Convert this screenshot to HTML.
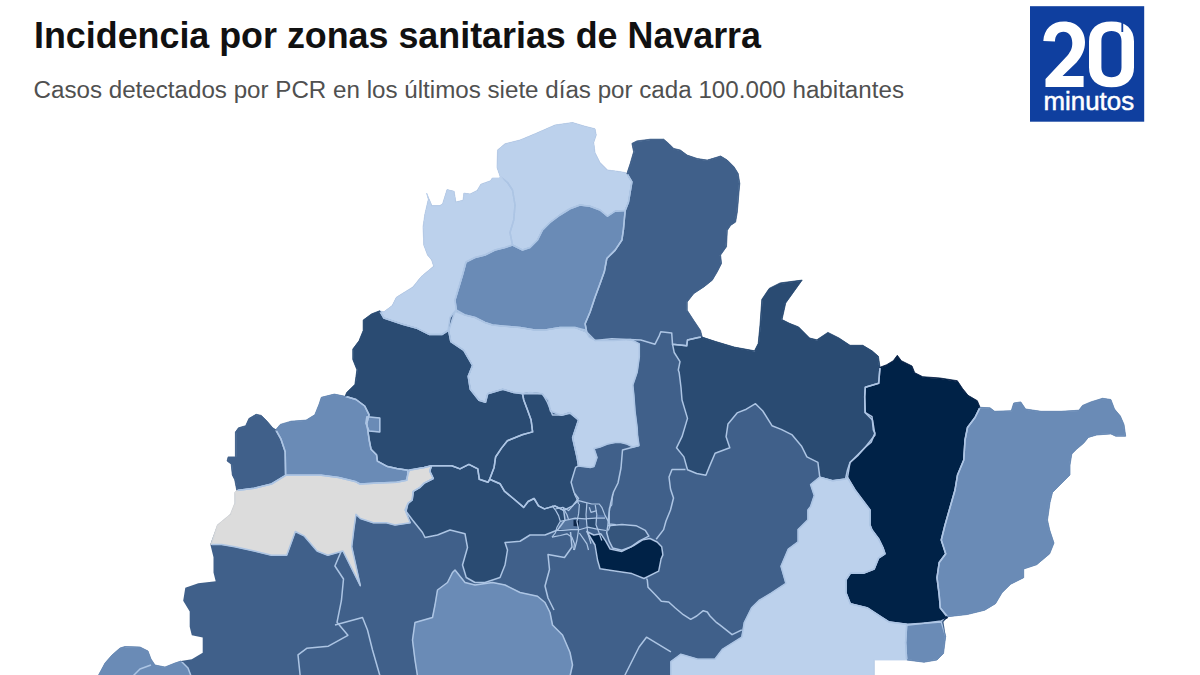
<!DOCTYPE html>
<html><head><meta charset="utf-8">
<style>
html,body{margin:0;padding:0;background:#fff;width:1200px;height:675px;overflow:hidden;}
body{position:relative;font-family:"Liberation Sans",sans-serif;}
.t{position:absolute;left:0;top:0;}
</style></head><body>
<svg class="t" width="1200" height="675" viewBox="0 0 1200 675">
<defs><filter id="er" x="0" y="0" width="1200" height="675" filterUnits="userSpaceOnUse"><feMorphology operator="erode" radius="1.2"/></filter>
<mask id="mk" maskUnits="userSpaceOnUse" x="0" y="0" width="1200" height="675"><g filter="url(#er)"><polygon points="346.6,392.6 354.9,384.4 356.9,369.8 352.8,359.5 352.8,349.1 359,340.8 363.2,330.5 363.2,320.1 371.5,313.9 379.7,310.8 383.9,311.8 392.2,305.6 396.3,297.3 412.9,286.9 421.2,276.6 433.6,266.2 431.6,260 427.5,255 423.75,245 423,226.9 424.8,214.4 428.3,199.3 426.6,193.1 429.2,199.3 431.9,205.6 439.9,205.6 442.6,203.8 447,189.6 454.1,191.3 455.9,202 463,200.2 463.9,193.1 470.1,194 477.2,190.4 480.8,184.2 490.6,180.7 492.3,178 499.4,178 503.9,182.4 500,176.25 497,167.5 497.5,150 505,143.75 520,140 535,133.75 555,125 572.5,122.5 585,126.25 595,128.75 596.25,135 593.75,142.5 595,152.5 600,162.5 607.5,170 617.5,171.25 625,172.5 626.9,173.5 630.2,163.5 633.6,151.8 631.9,143.4 636.9,140.9 650.3,139.2 663.7,139.2 668.7,143.4 673.7,148.4 680.4,150.1 687.1,155.1 697.2,158.5 707.2,160.1 715.6,157.6 720.6,156 727.3,160.1 734,166.8 738.2,173.5 739.8,183.6 739,191.9 738.2,202 737.3,212 735.6,222.1 730.6,225.4 727.3,230.4 726.5,246.7 720.6,255.1 721.5,263.5 717.3,271.8 712.3,280.2 703.9,286.9 693.8,293.6 687.2,302 687.2,310.3 693.8,320.4 700.5,330.4 702.2,337.1 715.9,341.6 734.3,347.1 754.5,350.8 758.2,343.5 760,325.1 761.8,299.4 769.2,288.4 780.2,282.9 802.2,280.1 794.9,290.2 785.7,303.1 782,319.6 789.4,323.3 798.6,326.9 809.6,338 816.9,339.8 827.9,332.4 839,338 850,345.3 862.8,345.3 872,350.8 878.4,356.3 880,367.3 886.7,364.7 893.3,360.7 897.3,355.3 901.3,360.7 912,366 914.7,372.7 922.7,376.7 940,378 957.3,380.7 962.7,388.7 968,395.3 977.3,400.7 980,407.3 990,407.8 994.7,411.3 1011.3,410.7 1013.7,403 1020.8,401.9 1025.6,409 1041,411.3 1061.1,411.3 1078.9,410.2 1082.5,405.4 1090.8,401.9 1102.6,398.3 1110.9,399.5 1114.5,409 1120.4,416.1 1124,424.4 1125.7,436.2 1115.7,436.2 1110.9,433.9 1096.7,435 1088.4,437.4 1083.6,443.3 1076.5,449.3 1071.8,454 1070,465 1070,475 1060,485 1052.5,492.5 1050,502.5 1047.5,520 1049.7,530 1054,543 1049.7,553.8 1036.7,564.7 1023.7,569 1023.7,577.7 1010.7,584.2 1002,592.8 995.5,603.7 984.7,610.2 967.3,614.5 947.8,616.7 943.5,622.1 945.7,636.2 943.5,653.5 937,660 924,662.2 906.7,660 902.3,660 874.2,660 874.2,676 98,676 105,663 112,655 120,648 125,646.5 140,647 148,651 151,659 155,665 165,667 175,663 181,661 191.8,659.2 202.7,652.7 202.7,637.5 191.8,635.3 189.7,626.7 189.7,611.5 183.2,600.7 185.3,587.7 198.3,583.3 215.7,581.2 213.5,572.5 213.5,557.3 210.3,544.3 217.3,525 230.3,514.2 234.7,503.3 234.7,492.5 236.8,490.5 234.7,479.7 232.3,475 231.2,464.1 227.1,461 228.1,456.9 235.4,456.9 235.4,432 238.5,427.8 245.7,425.7 248.9,418.5 256.1,414.3 261.3,415.4 266.5,420.6 272.7,427.8 275.8,429.8 280.2,424.4 291,421.2 306.2,420.1 314.8,414.7 319.2,403.8 321.3,397.3 334.3,394.1 345.2,396.3" fill="#fff"/></g></mask></defs>
<filter id="bl" x="0" y="0" width="1200" height="675" filterUnits="userSpaceOnUse"><feGaussianBlur stdDeviation="0.6"/></filter>
<g filter="url(#bl)"><g stroke="none"><polygon points="346.6,392.6 354.9,384.4 356.9,369.8 352.8,359.5 352.8,349.1 359,340.8 363.2,330.5 363.2,320.1 371.5,313.9 379.7,310.8 383.9,311.8 392.2,305.6 396.3,297.3 412.9,286.9 421.2,276.6 433.6,266.2 431.6,260 427.5,255 423.75,245 423,226.9 424.8,214.4 428.3,199.3 426.6,193.1 429.2,199.3 431.9,205.6 439.9,205.6 442.6,203.8 447,189.6 454.1,191.3 455.9,202 463,200.2 463.9,193.1 470.1,194 477.2,190.4 480.8,184.2 490.6,180.7 492.3,178 499.4,178 503.9,182.4 500,176.25 497,167.5 497.5,150 505,143.75 520,140 535,133.75 555,125 572.5,122.5 585,126.25 595,128.75 596.25,135 593.75,142.5 595,152.5 600,162.5 607.5,170 617.5,171.25 625,172.5 626.9,173.5 630.2,163.5 633.6,151.8 631.9,143.4 636.9,140.9 650.3,139.2 663.7,139.2 668.7,143.4 673.7,148.4 680.4,150.1 687.1,155.1 697.2,158.5 707.2,160.1 715.6,157.6 720.6,156 727.3,160.1 734,166.8 738.2,173.5 739.8,183.6 739,191.9 738.2,202 737.3,212 735.6,222.1 730.6,225.4 727.3,230.4 726.5,246.7 720.6,255.1 721.5,263.5 717.3,271.8 712.3,280.2 703.9,286.9 693.8,293.6 687.2,302 687.2,310.3 693.8,320.4 700.5,330.4 702.2,337.1 715.9,341.6 734.3,347.1 754.5,350.8 758.2,343.5 760,325.1 761.8,299.4 769.2,288.4 780.2,282.9 802.2,280.1 794.9,290.2 785.7,303.1 782,319.6 789.4,323.3 798.6,326.9 809.6,338 816.9,339.8 827.9,332.4 839,338 850,345.3 862.8,345.3 872,350.8 878.4,356.3 880,367.3 886.7,364.7 893.3,360.7 897.3,355.3 901.3,360.7 912,366 914.7,372.7 922.7,376.7 940,378 957.3,380.7 962.7,388.7 968,395.3 977.3,400.7 980,407.3 990,407.8 994.7,411.3 1011.3,410.7 1013.7,403 1020.8,401.9 1025.6,409 1041,411.3 1061.1,411.3 1078.9,410.2 1082.5,405.4 1090.8,401.9 1102.6,398.3 1110.9,399.5 1114.5,409 1120.4,416.1 1124,424.4 1125.7,436.2 1115.7,436.2 1110.9,433.9 1096.7,435 1088.4,437.4 1083.6,443.3 1076.5,449.3 1071.8,454 1070,465 1070,475 1060,485 1052.5,492.5 1050,502.5 1047.5,520 1049.7,530 1054,543 1049.7,553.8 1036.7,564.7 1023.7,569 1023.7,577.7 1010.7,584.2 1002,592.8 995.5,603.7 984.7,610.2 967.3,614.5 947.8,616.7 943.5,622.1 945.7,636.2 943.5,653.5 937,660 924,662.2 906.7,660 902.3,660 874.2,660 874.2,676 98,676 105,663 112,655 120,648 125,646.5 140,647 148,651 151,659 155,665 165,667 175,663 181,661 191.8,659.2 202.7,652.7 202.7,637.5 191.8,635.3 189.7,626.7 189.7,611.5 183.2,600.7 185.3,587.7 198.3,583.3 215.7,581.2 213.5,572.5 213.5,557.3 210.3,544.3 217.3,525 230.3,514.2 234.7,503.3 234.7,492.5 236.8,490.5 234.7,479.7 232.3,475 231.2,464.1 227.1,461 228.1,456.9 235.4,456.9 235.4,432 238.5,427.8 245.7,425.7 248.9,418.5 256.1,414.3 261.3,415.4 266.5,420.6 272.7,427.8 275.8,429.8 280.2,424.4 291,421.2 306.2,420.1 314.8,414.7 319.2,403.8 321.3,397.3 334.3,394.1 345.2,396.3" fill="#41618a"/><polygon points="455,311.25 465,315 475,317.5 485,322.5 492.5,325 505,326.25 520,327.5 535,330 545,330 560,327.5 575,327.5 585,330 589.5,337.3 596,340.6 613.3,340.6 630.7,339.5 639.3,343.8 639.3,356.8 637.2,372 632.8,385 633.9,395.8 635,411 637.2,428.3 637.5,435 639,445.5 633,447 627,444 621,442.5 615,442.5 607.5,444 600,447 594,448.5 597,457.5 594,466.5 590.4,467.4 578.5,465.9 577,457 572.6,437.8 578.5,420 570,413.2 561.3,415.3 550.5,411 548.3,400.2 541.8,393.7 524.5,393.7 513.7,392.6 502.8,389.3 487.7,393.7 485.5,402.3 479,400.2 470.3,389.3 468.2,376.3 472.5,365.5 463.8,350.3 450.8,341.7 448.7,330.8" fill="#bcd1ec" stroke="#bcd1ec" stroke-width="0.8"/><polygon points="497.5,150 505,143.75 520,140 535,133.75 555,125 572.5,122.5 585,126.25 595,128.75 596.25,135 593.75,142.5 595,152.5 600,162.5 607.5,170 617.5,171.25 625,172.5 626.9,173.5 631.9,181.9 630.2,191.9 628.5,202 625.2,210.4 615,211.25 607.5,216.25 600,210 590,206.25 580,205 570,208.75 560,215 550,222.5 542.5,230 537.5,240 530,247.5 522.5,250 512.5,245 510,232.5 513.75,220 515,205 512.5,190 507.5,182.5 500,176.25 497,167.5" fill="#bcd1ec" stroke="#bcd1ec" stroke-width="0.8"/><polygon points="615,211.25 607.5,216.25 600,210 590,206.25 580,205 570,208.75 560,215 550,222.5 542.5,230 537.5,240 530,247.5 522.5,250 512.5,245 505,247.5 495,250 485,255 475,257.5 466,262 462.5,275 458.75,287.5 455,300 456.25,310 465,315 475,317.5 485,322.5 492.5,325 505,326.25 520,327.5 535,330 545,330 560,327.5 575,327.5 586.7,332.1 585.1,323.7 590.1,312 595.1,296.9 600.1,283.6 604.3,271.8 606.8,258.5 615.2,250.1 621.9,240 623.5,228.8 624.4,218.7 625.2,210.4" fill="#6a8bb6" stroke="#6a8bb6" stroke-width="0.8"/><polygon points="499.4,178 492.3,178 490.6,180.7 480.8,184.2 477.2,190.4 470.1,194 463.9,193.1 463,200.2 455.9,202 454.1,191.3 447,189.6 442.6,203.8 439.9,205.6 431.9,205.6 429.2,199.3 426.6,193.1 428.3,199.3 424.8,214.4 423,226.9 423.75,245 427.5,255 431.6,260 433.6,266.2 421.2,276.6 412.9,286.9 396.3,297.3 392.2,305.6 383.9,311.8 379.7,310.8 383.9,318 402.5,324.2 417,328.4 429.5,334.6 441.9,334.6 448.1,330.5 450,317.5 455,311.25 456.25,310 455,300 458.75,287.5 462.5,275 466,262 475,257.5 485,255 495,250 505,247.5 512.5,245 510,232.5 513.75,220 515,205 512.5,190 507.5,182.5 500,176.25" fill="#bcd1ec" stroke="#bcd1ec" stroke-width="0.8"/><polygon points="631.9,143.4 636.9,140.9 650.3,139.2 663.7,139.2 668.7,143.4 673.7,148.4 680.4,150.1 687.1,155.1 697.2,158.5 707.2,160.1 715.6,157.6 720.6,156 727.3,160.1 734,166.8 738.2,173.5 739.8,183.6 739,191.9 738.2,202 737.3,212 735.6,222.1 730.6,225.4 727.3,230.4 726.5,246.7 720.6,255.1 721.5,263.5 717.3,271.8 712.3,280.2 703.9,286.9 693.8,293.6 687.2,302 687.2,310.3 693.8,320.4 700.5,330.4 702.2,337.1 698.3,337.5 687.5,340 686.7,345.8 672.5,344.2 671.7,332.9 660.8,331.7 659.2,335.8 655,344.2 640.8,340 628.6,339.6 611.8,338.8 595.1,340.5 586.7,332.1 585.1,323.7 590.1,312 595.1,296.9 600.1,283.6 604.3,271.8 606.8,258.5 615.2,250.1 621.9,240 623.5,228.8 624.4,218.7 625.2,210.4 628.5,202 630.2,191.9 631.9,181.9 626.9,173.5 630.2,163.5 633.6,151.8" fill="#41618a" stroke="#41618a" stroke-width="0.8"/><polygon points="379.7,310.8 383.9,318 402.5,324.2 417,328.4 429.5,334.6 441.9,334.6 448.1,330.5 448.7,330.8 450.8,341.7 463.8,350.3 472.5,365.5 468.2,376.3 470.3,389.3 479,400.2 485.5,402.3 487.7,393.7 502.8,389.3 513.7,392.6 522.5,393.75 523.75,400 527.5,410 531.1,420 532.6,431.9 522.2,434.8 507.4,440.7 501.5,448.1 495.6,457 494.1,467.4 489.6,479.3 488.1,482.2 479.3,479.3 477.8,468.9 468.9,464.4 460,468.9 451.7,465.7 431.5,465.7 424.2,467.5 407.7,470.2 396.7,468.4 387.5,466.6 377.4,461.1 376.5,454.7 371,449.2 369.2,440 366.8,423.3 369,414.7 364.7,406 356,399.5 345.2,396.3 346.6,392.6 354.9,384.4 356.9,369.8 352.8,359.5 352.8,349.1 359,340.8 363.2,330.5 363.2,320.1 371.5,313.9" fill="#2a4b72" stroke="#2a4b72" stroke-width="0.8"/><polygon points="522.5,393.75 530,392.5 542.5,393.75 547.5,402.5 552.5,415 562.5,415 570,412.5 578.5,420 572.6,437.8 577,457 578.5,465.9 575.6,467.4 571.1,482.2 574.1,492.6 578.5,498.5 572.6,505.9 563.7,510.4 554.8,505.9 544.4,508.9 538.5,505.9 534.1,498.5 528.1,501.5 523.7,507.4 513.3,498.5 504.4,491.1 500,483.7 489.6,479.3 494.1,467.4 495.6,457 501.5,448.1 507.4,440.7 522.2,434.8 532.6,431.9 531.1,420 527.5,410 523.75,400" fill="#2a4b72" stroke="#2a4b72" stroke-width="0.8"/><polygon points="431.5,465.7 451.7,465.7 460,468.9 468.9,464.4 477.8,468.9 479.3,479.3 488.1,482.2 489.6,479.3 500,483.7 504.4,491.1 513.3,498.5 523.7,507.4 528.1,501.5 534.1,498.5 538.5,505.9 544.4,508.9 554.8,505.9 563.7,510.4 565,520 557.5,530 545,535 530,535 520,541.25 505,542.5 507.5,550 505,565 500,577.5 485,582.5 475,582.5 466.25,577.5 462.5,565 467.5,547.5 465,533.75 450,530 437.5,535 425,537.5 422.5,532.5 412.5,520 405,510 408,503.3 412.2,500 413.2,491.3 419.6,487.7 424.2,483.1 433.3,478.5 429.7,471.2" fill="#2a4b72" stroke="#2a4b72" stroke-width="0.8"/><polygon points="702.2,337.1 715.9,341.6 734.3,347.1 754.5,350.8 758.2,343.5 760,325.1 761.8,299.4 769.2,288.4 780.2,282.9 802.2,280.1 794.9,290.2 785.7,303.1 782,319.6 789.4,323.3 798.6,326.9 809.6,338 816.9,339.8 827.9,332.4 839,338 850,345.3 862.8,345.3 872,350.8 878.4,356.3 880,367.3 878.7,383.3 865.3,387.3 864.7,396.7 865.3,412.7 872,416.7 873.3,430 874.9,433.1 871.2,442.2 865,447.5 858.3,455.1 850,462.5 847.5,470 845.5,479 832.6,480.8 819.8,477.1 817.9,462.4 806.9,456.9 801.4,445.9 792.2,434.9 781.2,429.4 772,425.7 762.8,411 755.5,403.7 746.3,409.2 737.1,412.9 728,423.9 726.1,436.7 729.8,447.8 715.1,453.3 709.6,466.1 705.9,475.3 696.7,473.5 687.5,469.8 683.9,456.9 676.5,447.8 682,436.7 687.5,418.4 682,400 681,387.5 679.2,372.8 678.3,370 680,361.7 674.2,352.5 672.5,344.2 686.7,345.8 687.5,340 698.3,337.5" fill="#2a4b72" stroke="#2a4b72" stroke-width="0.8"/><polygon points="880,367.3 886.7,364.7 893.3,360.7 897.3,355.3 901.3,360.7 912,366 914.7,372.7 922.7,376.7 940,378 957.3,380.7 962.7,388.7 968,395.3 977.3,400.7 980,407.3 975,417.5 967.5,427.5 965,440 963.75,460 957.5,475 955,490 950,507.5 945,525 941.25,540 945.7,553.8 939.2,562.5 937,577.7 939.2,595 940.3,608 947.8,617.8 941.3,621 924,623.2 906.7,624.3 889.3,622.1 880.7,616.7 867.7,608 850.3,603.7 846,592.8 846,579.8 850.3,573.3 863.3,573.3 874.2,569 878.5,558.2 885,553.8 882.8,547.3 878.5,538.7 872,530 870,525 870,510 862.5,500 855,490 847.5,477.5 850,462.5 865,447.5 875,435 872.5,420 865,412.5 864.7,396.7 865.3,387.3 878.7,383.3" fill="#062246" stroke="#062246" stroke-width="0.8"/><polygon points="980,407.3 990,407.8 994.7,411.3 1011.3,410.7 1013.7,403 1020.8,401.9 1025.6,409 1041,411.3 1061.1,411.3 1078.9,410.2 1082.5,405.4 1090.8,401.9 1102.6,398.3 1110.9,399.5 1114.5,409 1120.4,416.1 1124,424.4 1125.7,436.2 1115.7,436.2 1110.9,433.9 1096.7,435 1088.4,437.4 1083.6,443.3 1076.5,449.3 1071.8,454 1070,465 1070,475 1060,485 1052.5,492.5 1050,502.5 1047.5,520 1049.7,530 1054,543 1049.7,553.8 1036.7,564.7 1023.7,569 1023.7,577.7 1010.7,584.2 1002,592.8 995.5,603.7 984.7,610.2 967.3,614.5 947.8,616.7 940.3,608 939.2,595 937,577.7 939.2,562.5 945.7,553.8 941.25,540 945,525 950,507.5 955,490 957.5,475 963.75,460 965,440 967.5,427.5 975,417.5" fill="#6a8bb6" stroke="#6a8bb6" stroke-width="0.8"/><polygon points="906.7,625.3 924,623.2 941.3,622.1 945.7,636.2 943.5,653.5 937,660 924,662.2 906.7,660 905.6,642.7" fill="#6a8bb6" stroke="#6a8bb6" stroke-width="0.8"/><polygon points="819.8,477.1 832.6,480.8 845.5,479 847.5,477.5 855,490 862.5,500 870,510 870,525 872,530 878.5,538.7 882.8,547.3 885,553.8 878.5,558.2 874.2,569 863.3,573.3 850.3,573.3 846,579.8 846,592.8 850.3,603.7 867.7,608 880.7,616.7 889.3,622.1 906.7,624.3 905.6,642.7 906.7,660 874.2,660 874.2,676 670.9,676 670.9,661.6 680.7,654.3 697.8,659.2 714.9,659.2 722.3,649.4 741.8,637.2 744.3,622.5 751.6,607.8 759,600.5 771.2,593.2 785.9,583.4 781,566.2 788.3,549.1 798.1,541.8 798.1,529.6 807.9,519.8 807.9,510 810.6,506.5 814.3,495.5 810.6,484.5" fill="#bcd1ec" stroke="#bcd1ec" stroke-width="0.8"/><polygon points="321.3,397.3 334.3,394.1 345.2,396.3 356,399.5 364.7,406 369,414.7 366.8,423.3 369.2,440 371,449.2 376.5,454.7 377.4,461.1 387.5,466.6 396.7,468.4 407.7,470.2 407.7,474.8 406.7,480.3 396.7,482.2 378.3,483.1 360,484 356,481.8 338.7,477.5 321.3,475.3 301.8,475.3 285.6,475.3 285.2,451.7 281,439.2 275.8,429.8 280.2,424.4 291,421.2 306.2,420.1 314.8,414.7 319.2,403.8" fill="#6a8bb6" stroke="#6a8bb6" stroke-width="0.8"/><polygon points="366.8,416.8 379.8,417.9 379.8,432 369,430.9 365.8,423.3" fill="#6a8bb6" stroke="#6a8bb6" stroke-width="0.8"/><polygon points="256.1,414.3 261.3,415.4 266.5,420.6 272.7,427.8 275.8,429.8 281,439.2 285.2,451.7 285.6,475.3 271.5,484 254.2,488.3 236.8,490.5 234.7,479.7 232.3,475 231.2,464.1 227.1,461 228.1,456.9 235.4,456.9 235.4,432 238.5,427.8 245.7,425.7 248.9,418.5" fill="#41618a" stroke="#41618a" stroke-width="0.8"/><polygon points="234.7,492.5 236.8,490.5 254.2,488.3 271.5,484 285.6,475.3 301.8,475.3 321.3,475.3 338.7,477.5 356,481.8 360,484 378.3,483.1 396.7,482.2 406.7,480.3 407.7,474.8 409.5,470.2 424.2,467.5 431.5,465.7 429.7,471.2 433.3,478.5 424.2,483.1 419.6,487.7 413.2,491.3 412.2,500 408,503.3 405.9,512 410.2,522.8 395,525 386.3,522.8 373.3,522.8 360.3,518.5 356,514.2 353.8,529.3 351.7,546.7 360.3,585.7 351.7,568.3 343,551 327.8,555.3 317,551 304,535.8 295.3,531.5 286.7,555.3 271.5,555.3 254.2,551 234.7,546.7 221.7,544.5 210.8,544.5 217.3,525 230.3,514.2 234.7,503.3" fill="#dcdcdc" stroke="#dcdcdc" stroke-width="0.8"/><polygon points="98,676 105,663 112,655 120,648 125,646.5 140,647 148,651 151,659 155,665 165,667 175,663 181,661 188,668 191,676" fill="#6a8bb6" stroke="#6a8bb6" stroke-width="0.8"/><polygon points="452.5,572.5 455,570 465,582.5 475,585 492.5,582.5 505,585 520,592.5 537.5,596.25 545,602.5 550,612.5 552.5,625 562.5,635 570,652.5 572.5,665 570,676 417.5,676 415,660 412.5,640 415,622.5 432.5,617.5 435,605 437.5,590 447.5,582.5" fill="#6a8bb6" stroke="#6a8bb6" stroke-width="0.8"/><polygon points="607.9,525.7 622,524.5 636,525.7 645.3,530.3 648.9,536.2 639.5,540.9 631.3,546.7 621.9,550.2 612.6,547.9 609,540.9 606.7,532.7" fill="#34547c" stroke="#34547c" stroke-width="0.8"/><polygon points="586.8,531.5 593.8,535 600.9,533.8 605.6,540.9 610.2,549.1 621.9,551.4 633.6,545.6 643,539.7 650,538.5 657.1,542 661.7,546.7 662.9,554.9 661.1,558.9 658.7,571.1 644,578.5 631.8,573.6 614.7,571.1 600,568.7 597.5,560 595,545" fill="#062246" stroke="#062246" stroke-width="0.8"/><polygon points="561,522 568.6,520 575,518.5 577,521.5 578.6,529.7 571.1,529.7 562.8,530.5 558,527" fill="#5676a0"/><polygon points="579,504 586.9,503.1 586,514.7 585.2,518.9 575.2,518.1 578.6,513.9" fill="#34547c"/><polygon points="587,519 595.2,518.1 596,524.7 596,528.9 587.7,527.2 586.9,525.5" fill="#2a4b72"/><polygon points="596.8,514.7 605.1,515.6 605.1,518.1 595.2,518.1" fill="#5070a0"/><polygon points="573.5,520 579,520.5 579,526.5 573.5,526" fill="#0a2548"/></g>
<g mask="url(#mk)" fill="none" stroke="#adc5e4" stroke-width="1.5" stroke-linejoin="round"><polygon points="455,311.25 465,315 475,317.5 485,322.5 492.5,325 505,326.25 520,327.5 535,330 545,330 560,327.5 575,327.5 585,330 589.5,337.3 596,340.6 613.3,340.6 630.7,339.5 639.3,343.8 639.3,356.8 637.2,372 632.8,385 633.9,395.8 635,411 637.2,428.3 637.5,435 639,445.5 633,447 627,444 621,442.5 615,442.5 607.5,444 600,447 594,448.5 597,457.5 594,466.5 590.4,467.4 578.5,465.9 577,457 572.6,437.8 578.5,420 570,413.2 561.3,415.3 550.5,411 548.3,400.2 541.8,393.7 524.5,393.7 513.7,392.6 502.8,389.3 487.7,393.7 485.5,402.3 479,400.2 470.3,389.3 468.2,376.3 472.5,365.5 463.8,350.3 450.8,341.7 448.7,330.8"/><polygon points="497.5,150 505,143.75 520,140 535,133.75 555,125 572.5,122.5 585,126.25 595,128.75 596.25,135 593.75,142.5 595,152.5 600,162.5 607.5,170 617.5,171.25 625,172.5 626.9,173.5 631.9,181.9 630.2,191.9 628.5,202 625.2,210.4 615,211.25 607.5,216.25 600,210 590,206.25 580,205 570,208.75 560,215 550,222.5 542.5,230 537.5,240 530,247.5 522.5,250 512.5,245 510,232.5 513.75,220 515,205 512.5,190 507.5,182.5 500,176.25 497,167.5"/><polygon points="615,211.25 607.5,216.25 600,210 590,206.25 580,205 570,208.75 560,215 550,222.5 542.5,230 537.5,240 530,247.5 522.5,250 512.5,245 505,247.5 495,250 485,255 475,257.5 466,262 462.5,275 458.75,287.5 455,300 456.25,310 465,315 475,317.5 485,322.5 492.5,325 505,326.25 520,327.5 535,330 545,330 560,327.5 575,327.5 586.7,332.1 585.1,323.7 590.1,312 595.1,296.9 600.1,283.6 604.3,271.8 606.8,258.5 615.2,250.1 621.9,240 623.5,228.8 624.4,218.7 625.2,210.4"/><polygon points="499.4,178 492.3,178 490.6,180.7 480.8,184.2 477.2,190.4 470.1,194 463.9,193.1 463,200.2 455.9,202 454.1,191.3 447,189.6 442.6,203.8 439.9,205.6 431.9,205.6 429.2,199.3 426.6,193.1 428.3,199.3 424.8,214.4 423,226.9 423.75,245 427.5,255 431.6,260 433.6,266.2 421.2,276.6 412.9,286.9 396.3,297.3 392.2,305.6 383.9,311.8 379.7,310.8 383.9,318 402.5,324.2 417,328.4 429.5,334.6 441.9,334.6 448.1,330.5 450,317.5 455,311.25 456.25,310 455,300 458.75,287.5 462.5,275 466,262 475,257.5 485,255 495,250 505,247.5 512.5,245 510,232.5 513.75,220 515,205 512.5,190 507.5,182.5 500,176.25"/><polygon points="631.9,143.4 636.9,140.9 650.3,139.2 663.7,139.2 668.7,143.4 673.7,148.4 680.4,150.1 687.1,155.1 697.2,158.5 707.2,160.1 715.6,157.6 720.6,156 727.3,160.1 734,166.8 738.2,173.5 739.8,183.6 739,191.9 738.2,202 737.3,212 735.6,222.1 730.6,225.4 727.3,230.4 726.5,246.7 720.6,255.1 721.5,263.5 717.3,271.8 712.3,280.2 703.9,286.9 693.8,293.6 687.2,302 687.2,310.3 693.8,320.4 700.5,330.4 702.2,337.1 698.3,337.5 687.5,340 686.7,345.8 672.5,344.2 671.7,332.9 660.8,331.7 659.2,335.8 655,344.2 640.8,340 628.6,339.6 611.8,338.8 595.1,340.5 586.7,332.1 585.1,323.7 590.1,312 595.1,296.9 600.1,283.6 604.3,271.8 606.8,258.5 615.2,250.1 621.9,240 623.5,228.8 624.4,218.7 625.2,210.4 628.5,202 630.2,191.9 631.9,181.9 626.9,173.5 630.2,163.5 633.6,151.8"/><polygon points="379.7,310.8 383.9,318 402.5,324.2 417,328.4 429.5,334.6 441.9,334.6 448.1,330.5 448.7,330.8 450.8,341.7 463.8,350.3 472.5,365.5 468.2,376.3 470.3,389.3 479,400.2 485.5,402.3 487.7,393.7 502.8,389.3 513.7,392.6 522.5,393.75 523.75,400 527.5,410 531.1,420 532.6,431.9 522.2,434.8 507.4,440.7 501.5,448.1 495.6,457 494.1,467.4 489.6,479.3 488.1,482.2 479.3,479.3 477.8,468.9 468.9,464.4 460,468.9 451.7,465.7 431.5,465.7 424.2,467.5 407.7,470.2 396.7,468.4 387.5,466.6 377.4,461.1 376.5,454.7 371,449.2 369.2,440 366.8,423.3 369,414.7 364.7,406 356,399.5 345.2,396.3 346.6,392.6 354.9,384.4 356.9,369.8 352.8,359.5 352.8,349.1 359,340.8 363.2,330.5 363.2,320.1 371.5,313.9"/><polygon points="522.5,393.75 530,392.5 542.5,393.75 547.5,402.5 552.5,415 562.5,415 570,412.5 578.5,420 572.6,437.8 577,457 578.5,465.9 575.6,467.4 571.1,482.2 574.1,492.6 578.5,498.5 572.6,505.9 563.7,510.4 554.8,505.9 544.4,508.9 538.5,505.9 534.1,498.5 528.1,501.5 523.7,507.4 513.3,498.5 504.4,491.1 500,483.7 489.6,479.3 494.1,467.4 495.6,457 501.5,448.1 507.4,440.7 522.2,434.8 532.6,431.9 531.1,420 527.5,410 523.75,400"/><polygon points="431.5,465.7 451.7,465.7 460,468.9 468.9,464.4 477.8,468.9 479.3,479.3 488.1,482.2 489.6,479.3 500,483.7 504.4,491.1 513.3,498.5 523.7,507.4 528.1,501.5 534.1,498.5 538.5,505.9 544.4,508.9 554.8,505.9 563.7,510.4 565,520 557.5,530 545,535 530,535 520,541.25 505,542.5 507.5,550 505,565 500,577.5 485,582.5 475,582.5 466.25,577.5 462.5,565 467.5,547.5 465,533.75 450,530 437.5,535 425,537.5 422.5,532.5 412.5,520 405,510 408,503.3 412.2,500 413.2,491.3 419.6,487.7 424.2,483.1 433.3,478.5 429.7,471.2"/><polygon points="702.2,337.1 715.9,341.6 734.3,347.1 754.5,350.8 758.2,343.5 760,325.1 761.8,299.4 769.2,288.4 780.2,282.9 802.2,280.1 794.9,290.2 785.7,303.1 782,319.6 789.4,323.3 798.6,326.9 809.6,338 816.9,339.8 827.9,332.4 839,338 850,345.3 862.8,345.3 872,350.8 878.4,356.3 880,367.3 878.7,383.3 865.3,387.3 864.7,396.7 865.3,412.7 872,416.7 873.3,430 874.9,433.1 871.2,442.2 865,447.5 858.3,455.1 850,462.5 847.5,470 845.5,479 832.6,480.8 819.8,477.1 817.9,462.4 806.9,456.9 801.4,445.9 792.2,434.9 781.2,429.4 772,425.7 762.8,411 755.5,403.7 746.3,409.2 737.1,412.9 728,423.9 726.1,436.7 729.8,447.8 715.1,453.3 709.6,466.1 705.9,475.3 696.7,473.5 687.5,469.8 683.9,456.9 676.5,447.8 682,436.7 687.5,418.4 682,400 681,387.5 679.2,372.8 678.3,370 680,361.7 674.2,352.5 672.5,344.2 686.7,345.8 687.5,340 698.3,337.5"/><polygon points="880,367.3 886.7,364.7 893.3,360.7 897.3,355.3 901.3,360.7 912,366 914.7,372.7 922.7,376.7 940,378 957.3,380.7 962.7,388.7 968,395.3 977.3,400.7 980,407.3 975,417.5 967.5,427.5 965,440 963.75,460 957.5,475 955,490 950,507.5 945,525 941.25,540 945.7,553.8 939.2,562.5 937,577.7 939.2,595 940.3,608 947.8,617.8 941.3,621 924,623.2 906.7,624.3 889.3,622.1 880.7,616.7 867.7,608 850.3,603.7 846,592.8 846,579.8 850.3,573.3 863.3,573.3 874.2,569 878.5,558.2 885,553.8 882.8,547.3 878.5,538.7 872,530 870,525 870,510 862.5,500 855,490 847.5,477.5 850,462.5 865,447.5 875,435 872.5,420 865,412.5 864.7,396.7 865.3,387.3 878.7,383.3"/><polygon points="980,407.3 990,407.8 994.7,411.3 1011.3,410.7 1013.7,403 1020.8,401.9 1025.6,409 1041,411.3 1061.1,411.3 1078.9,410.2 1082.5,405.4 1090.8,401.9 1102.6,398.3 1110.9,399.5 1114.5,409 1120.4,416.1 1124,424.4 1125.7,436.2 1115.7,436.2 1110.9,433.9 1096.7,435 1088.4,437.4 1083.6,443.3 1076.5,449.3 1071.8,454 1070,465 1070,475 1060,485 1052.5,492.5 1050,502.5 1047.5,520 1049.7,530 1054,543 1049.7,553.8 1036.7,564.7 1023.7,569 1023.7,577.7 1010.7,584.2 1002,592.8 995.5,603.7 984.7,610.2 967.3,614.5 947.8,616.7 940.3,608 939.2,595 937,577.7 939.2,562.5 945.7,553.8 941.25,540 945,525 950,507.5 955,490 957.5,475 963.75,460 965,440 967.5,427.5 975,417.5"/><polygon points="906.7,625.3 924,623.2 941.3,622.1 945.7,636.2 943.5,653.5 937,660 924,662.2 906.7,660 905.6,642.7"/><polygon points="819.8,477.1 832.6,480.8 845.5,479 847.5,477.5 855,490 862.5,500 870,510 870,525 872,530 878.5,538.7 882.8,547.3 885,553.8 878.5,558.2 874.2,569 863.3,573.3 850.3,573.3 846,579.8 846,592.8 850.3,603.7 867.7,608 880.7,616.7 889.3,622.1 906.7,624.3 905.6,642.7 906.7,660 874.2,660 874.2,676 670.9,676 670.9,661.6 680.7,654.3 697.8,659.2 714.9,659.2 722.3,649.4 741.8,637.2 744.3,622.5 751.6,607.8 759,600.5 771.2,593.2 785.9,583.4 781,566.2 788.3,549.1 798.1,541.8 798.1,529.6 807.9,519.8 807.9,510 810.6,506.5 814.3,495.5 810.6,484.5"/><polygon points="321.3,397.3 334.3,394.1 345.2,396.3 356,399.5 364.7,406 369,414.7 366.8,423.3 369.2,440 371,449.2 376.5,454.7 377.4,461.1 387.5,466.6 396.7,468.4 407.7,470.2 407.7,474.8 406.7,480.3 396.7,482.2 378.3,483.1 360,484 356,481.8 338.7,477.5 321.3,475.3 301.8,475.3 285.6,475.3 285.2,451.7 281,439.2 275.8,429.8 280.2,424.4 291,421.2 306.2,420.1 314.8,414.7 319.2,403.8"/><polygon points="366.8,416.8 379.8,417.9 379.8,432 369,430.9 365.8,423.3"/><polygon points="256.1,414.3 261.3,415.4 266.5,420.6 272.7,427.8 275.8,429.8 281,439.2 285.2,451.7 285.6,475.3 271.5,484 254.2,488.3 236.8,490.5 234.7,479.7 232.3,475 231.2,464.1 227.1,461 228.1,456.9 235.4,456.9 235.4,432 238.5,427.8 245.7,425.7 248.9,418.5"/><polygon points="234.7,492.5 236.8,490.5 254.2,488.3 271.5,484 285.6,475.3 301.8,475.3 321.3,475.3 338.7,477.5 356,481.8 360,484 378.3,483.1 396.7,482.2 406.7,480.3 407.7,474.8 409.5,470.2 424.2,467.5 431.5,465.7 429.7,471.2 433.3,478.5 424.2,483.1 419.6,487.7 413.2,491.3 412.2,500 408,503.3 405.9,512 410.2,522.8 395,525 386.3,522.8 373.3,522.8 360.3,518.5 356,514.2 353.8,529.3 351.7,546.7 360.3,585.7 351.7,568.3 343,551 327.8,555.3 317,551 304,535.8 295.3,531.5 286.7,555.3 271.5,555.3 254.2,551 234.7,546.7 221.7,544.5 210.8,544.5 217.3,525 230.3,514.2 234.7,503.3"/><polygon points="98,676 105,663 112,655 120,648 125,646.5 140,647 148,651 151,659 155,665 165,667 175,663 181,661 188,668 191,676"/><polygon points="452.5,572.5 455,570 465,582.5 475,585 492.5,582.5 505,585 520,592.5 537.5,596.25 545,602.5 550,612.5 552.5,625 562.5,635 570,652.5 572.5,665 570,676 417.5,676 415,660 412.5,640 415,622.5 432.5,617.5 435,605 437.5,590 447.5,582.5"/><polygon points="607.9,525.7 622,524.5 636,525.7 645.3,530.3 648.9,536.2 639.5,540.9 631.3,546.7 621.9,550.2 612.6,547.9 609,540.9 606.7,532.7"/><polygon points="586.8,531.5 593.8,535 600.9,533.8 605.6,540.9 610.2,549.1 621.9,551.4 633.6,545.6 643,539.7 650,538.5 657.1,542 661.7,546.7 662.9,554.9 661.1,558.9 658.7,571.1 644,578.5 631.8,573.6 614.7,571.1 600,568.7 597.5,560 595,545"/><polyline points="133,676 140,669 151,665"/><polyline points="639,445.5 622.5,450 621,468 618,483 613.5,492 610.5,504 609,513 607.9,525.7"/><polyline points="685.5,469.5 672,469.5 669,477 670.5,489 673.5,498 670.5,510 666,521 663.6,529.6 656.2,539.3"/><polyline points="646.5,578.5 647.3,580 648,587.3 655.3,594.7 661.3,601.3 668.7,602 675.3,608 683.3,614.7 690.7,619.3 696.7,616 703.3,610.7 707.3,612 710,616 716.7,622.7 719.8,624.9 732.1,634.7 741.8,629.8"/><polyline points="670.9,651.8 646.5,637.2 639.1,647 624.5,676"/><polyline points="341.4,550.8 334.9,566 343.5,579 341.4,600.7 337,622.3 347.9,635.3 328.4,646.2 306.7,648.3 298,654.8 300.2,676"/><polyline points="335,625 362.5,617.5 367.5,630 372.5,650 380,676"/><polyline points="570.5,532 572,547 564.5,557.5 548,554.5 549.5,569.5 545,586 548,598 554,610"/><g stroke-width="1.2"><polyline points="574.4,494 576.9,499 578.6,504"/><polyline points="552,505.6 555.3,509.8 558.6,515.6 560.3,521.4 557,527.2 555.3,533 552,537.2"/><polyline points="555.3,509 562.8,507.3 568.6,510.6 573.6,504.8 578.6,500.6 585.2,502.3 591.8,504 599.3,504 601.8,507.3 605.1,515.6 608.4,521.4 610.1,525.5 608.4,530.5"/><polyline points="612.6,494 611.8,504.8 609.3,508.1 609.3,523.9 615.9,524.7"/><polyline points="579.4,504 578.6,513.9 576.9,521.4 578.6,529.7 576.9,540.5 574.4,550"/><polyline points="586.9,503.1 586,514.7 586.9,525.5 587.7,533 591,543.8"/><polyline points="595.2,504.8 596.8,514.7 596,524.7 598.5,531.3 601.8,540.5"/><polyline points="560.3,521.4 568.6,519.7 575.2,518.1 585.2,518.9 595.2,518.1 605.1,518.1"/><polyline points="555.3,530.5 562.8,530.5 571.1,529.7 579.4,529.7 587.7,527.2 596,528.9 606,530.5"/><polyline points="552,537.2 560.3,535.5 566.9,533.8 571.9,537.2 574.4,543.8 573.6,550"/><polyline points="579.4,533 583.5,538.8 586.9,543.8 588.5,550"/><polyline points="562.8,507.3 567,514.7 568.6,519.7"/><polyline points="589.3,507.3 591,512.3 596.8,510.6"/></g></g></g>


<text x="34" y="47.5" font-family="Liberation Sans" font-weight="bold" font-size="37.5" fill="#111" textLength="727" lengthAdjust="spacingAndGlyphs">Incidencia por zonas sanitarias de Navarra</text>
<text x="33.5" y="97.9" font-family="Liberation Sans" font-size="23.5" fill="#505050" textLength="870.5" lengthAdjust="spacingAndGlyphs">Casos detectados por PCR en los últimos siete días por cada 100.000 habitantes</text>
<rect x="1030" y="6.2" width="114.2" height="115.5" fill="#0f3f9f"/>
<path fill="#fff" d="M1043.3,41 C1044,29 1052,21.5 1064,21.5 C1076.5,21.5 1085,30 1085,42 C1085,50 1082,56 1076.5,62.5 L1062.5,76 L1083.6,76 L1083.6,87 L1045.5,87 L1045.5,79 L1067.5,55.5 C1071,51 1072.3,48 1072.3,43 C1072.3,36 1068.5,31.8 1063.5,31.8 C1058,31.8 1055,36 1055,41.5 Z"/>
<path fill="#fff" fill-rule="evenodd" d="M1089,41.5 C1089,29 1097,21.5 1111.5,21.5 C1126,21.5 1134,29 1134,41.5 L1134,67.3 C1134,79.8 1126,87.3 1111.5,87.3 C1097,87.3 1089,79.8 1089,67.3 Z M1101.4,41 C1101.4,34.5 1105,31 1111.5,31 C1118,31 1121.5,34.5 1121.5,41 L1121.5,67.2 C1121.5,73.7 1118,77.2 1111.5,77.2 C1105,77.2 1101.4,73.7 1101.4,67.2 Z"/>
<rect x="1121.4" y="22" width="1.8" height="10" fill="#0f3f9f"/>
<text x="1043.5" y="109.7" font-family="Liberation Sans" font-size="26" fill="#fff" stroke="#fff" stroke-width="0.5" textLength="90.6" lengthAdjust="spacingAndGlyphs">minutos</text>
</svg>
</body></html>
